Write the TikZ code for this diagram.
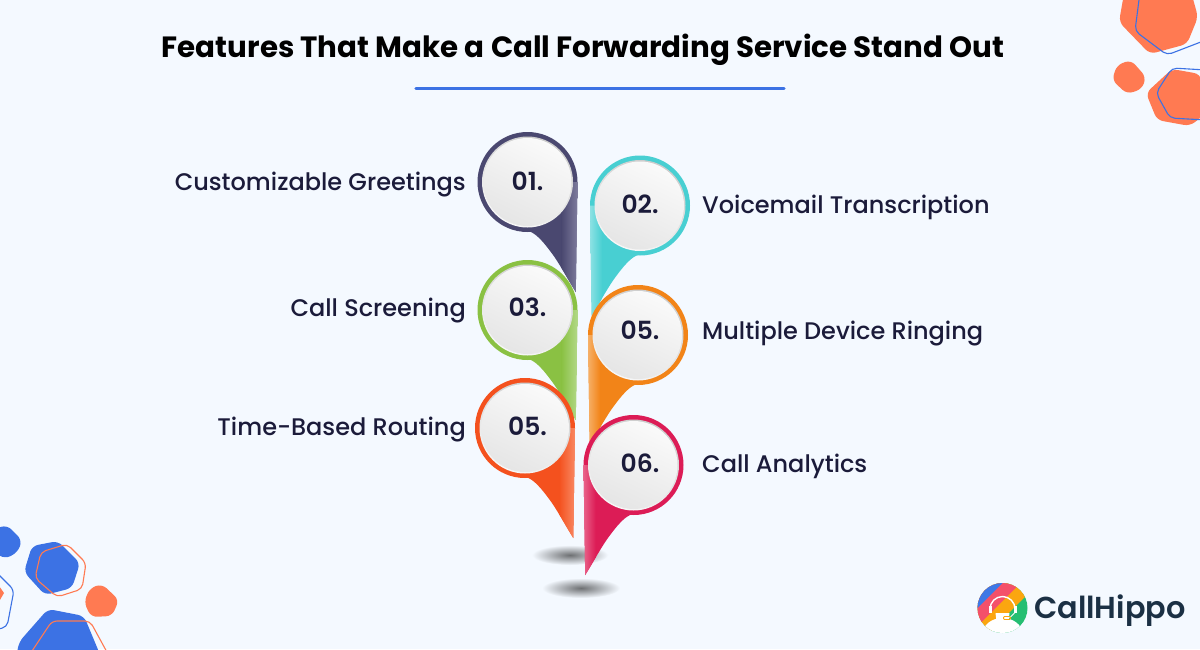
\documentclass[tikz,border=0pt]{standalone}
\usepackage{fontspec}
\setmainfont{Poppins}[UprightFont={* Medium},BoldFont={* Bold}]
\newfontfamily\semi{Poppins SemiBold}
\definecolor{bg}{HTML}{F4F9FF}
\definecolor{ink}{HTML}{1B1B3A}
\definecolor{hexblue}{HTML}{3C72E4}
\definecolor{hexor}{HTML}{FF7A52}
\definecolor{pinA}{HTML}{4A4870}\definecolor{pinAl}{HTML}{7F7D9E}
\definecolor{pinB}{HTML}{48CFD2}\definecolor{pinBl}{HTML}{8FE2E4}
\definecolor{pinC}{HTML}{8AC143}\definecolor{pinCl}{HTML}{B3D98A}
\definecolor{pinD}{HTML}{F28418}\definecolor{pinDl}{HTML}{F6B26B}
\definecolor{pinE}{HTML}{F4511E}\definecolor{pinEl}{HTML}{F98A65}
\definecolor{pinF}{HTML}{DC1C56}\definecolor{pinFl}{HTML}{E9658C}
\definecolor{logoblue}{HTML}{3E78E6}
\definecolor{logored}{HTML}{F4506A}
\definecolor{logoor}{HTML}{FBA60F}
\definecolor{logogreen}{HTML}{25BE72}
\definecolor{logoink}{HTML}{1B3044}
\tikzset{
  blob/.style={rounded corners=6pt},
  hexline/.style={rounded corners=5pt,line width=1.1pt,fill=none},
  featlabel/.style={inner sep=0pt,font=\fontsize{24}{28}\selectfont,text=ink},
  discnode/.style={circle,minimum size=88pt,inner sep=0pt,
    top color=white!98!black,bottom color=black!10,shading angle=-25},
  numlabel/.style={inner sep=0pt,font=\semi\fontsize{25}{28}\selectfont,text=ink},
  rim/.style={top color=black!20,bottom color=white!97!black,shading angle=-25},
  shadowblob/.style={inner color=black!55!bg,outer color=bg}
}
% name, cx, cy, direction(+1 tail on right, -1 tail on left), base, light
\newcommand{\pinmark}[6]{%
  \begin{scope}[shift={(#2,#3)}]
    \fill[#5] (0,0) circle[radius=50];
    \path[fill=#5] (0,49) .. controls ({#4*8},50) and ({#4*17},61) .. ({#4*27},75)
       .. controls ({#4*35},87) and ({#4*42},100) .. ({#4*48.3},110) -- ({#4*50},0) -- cycle;
    \begin{scope}
      \clip (0,49) .. controls ({#4*8},50) and ({#4*17},61) .. ({#4*27},75)
       .. controls ({#4*35},87) and ({#4*42},100) .. ({#4*48.3},110) -- ({#4*50},0) -- (0,0) -- cycle;
      \ifnum#4>0
        \shade[left color=#5,right color=#6] (34,0) rectangle (50.5,112);
      \else
        \shade[left color=#6,right color=#5] (-50.5,0) rectangle (-38,112);
      \fi
    \end{scope}
    \shade[rim] (0,0) circle[radius=45.5];
    \node[discnode] (#1) at (0,0) {};
  \end{scope}}
\begin{document}
\begin{tikzpicture}[x=1pt,y=-1pt]
\useasboundingbox (0,0) rectangle (1200,649);
\clip (0,0) rectangle (1200,649);
\fill[bg] (0,0) rectangle (1200,649);
% corner decorations, top right
\fill[hexor,blob] (1125,-12) -- (1119,22) -- (1150,54) -- (1187,44) -- (1198,17) -- (1190,-12) -- cycle;
\draw[hexblue,hexline] (1140,-8) -- (1135,31) -- (1167,55) -- (1206,40);
\fill[hexor,blob] (1131,60) -- (1146,77) -- (1142,89) -- (1127,94) -- (1112,80) -- (1117,65) -- cycle;
\fill[hexor,blob] (1172,69) -- (1200,74) -- (1210,110) -- (1190,126) -- (1157,120) -- (1146,93) -- cycle;
\draw[hexblue,hexline] (1206,70) -- (1172,68) -- (1156,93) -- (1170,118) -- (1206,120);
% corner decorations, bottom left
\fill[hexblue,blob] (7,525) -- (22,540) -- (18,552) -- (5,559) -- (-9,550) -- (-9,530) -- cycle;
\fill[hexblue,blob] (32,546) -- (58,541) -- (80,563) -- (72,588) -- (45,595) -- (24,572) -- cycle;
\draw[hexor,hexline] (41,552) -- (67,544) -- (86,563) -- (82,589) -- (57,597) -- (35,578) -- cycle;
\fill[hexor,blob] (102,584) -- (119,600) -- (112,616) -- (91,617) -- (84,602) -- (90,588) -- cycle;
\fill[hexblue,blob] (48,609) -- (84,616) -- (104,664) -- (15,664) -- (19,642) -- cycle;
\draw[hexor,hexline] (30,654) -- (52,621) -- (90,621) -- (108,654);
\draw[hexblue,hexline] (-6,570) -- (14,590) -- (7,627) -- (-6,630);
\fill[hexor] (-3,583) -- (4,593) -- (-3,605) -- cycle;
% title
\node[inner sep=0pt,anchor=base,font=\bfseries\fontsize{29.3}{34}\selectfont,text=black] (title) at (583,57) {Features That Make a Call Forwarding Service Stand Out};
\draw[line width=3.4pt,line cap=round,color=hexblue] (416,88.5) coordinate (ruleL) -- (784,88.5) coordinate (ruleR);
% shadows
\shade[shadowblob] (570,555) ellipse[x radius=38,y radius=10];
\shade[shadowblob] (581,588) ellipse[x radius=39,y radius=10];
% pins
\pinmark{n1}{527.5}{182}{1}{pinA}{pinAl}
\node[numlabel] (v1) at (527.5,181) {01.};
\pinmark{n2}{640}{205.5}{-1}{pinB}{pinBl}
\node[numlabel] (v2) at (640,204) {02.};
\pinmark{n3}{527.5}{310}{1}{pinC}{pinCl}
\node[numlabel] (v3) at (527.5,307.5) {03.};
\pinmark{n5}{638}{335}{-1}{pinD}{pinDl}
\node[numlabel] (v5) at (640,330.5) {05.};
\pinmark{n4}{525}{428}{1}{pinE}{pinEl}
\node[numlabel] (v4) at (527.5,426.5) {05.};
\pinmark{n6}{633.5}{465}{-1}{pinF}{pinFl}
\node[numlabel] (v6) at (640,463) {06.};
% labels
\node[featlabel,anchor=base east] (t1) at (466,190) {Customizable Greetings};
\node[featlabel,anchor=base east] (t3) at (466,316) {Call Screening};
\node[featlabel,anchor=base east] (t4) at (466,435) {Time-Based Routing};
\node[featlabel,anchor=base west] (t2) at (702,213) {Voicemail Transcription};
\node[featlabel,anchor=base west] (t5) at (702,339) {Multiple Device Ringing};
\node[featlabel,anchor=base west] (t6) at (702,472) {Call Analytics};
% logo
\begin{scope}[shift={(1002.5,608)}]
  \begin{scope}
    \clip (0,0) circle[radius=25];
    \fill[logogreen] (-30,-30) rectangle (30,30);
    \fill[logoor] (35.7,-24.3) -- (-24.3,35.7) -- (-60,-60) -- cycle;
    \fill[logored] (26.5,-33.5) -- (-33.5,26.5) -- (-60,-60) -- cycle;
    \fill[logoblue] (17.5,-42.5) -- (-42.5,17.5) -- (-60,-60) -- cycle;
    \fill[white] (0,26) ellipse[x radius=20,y radius=16];
    \fill[white] (-7,5) -- (7,5) -- (6,14) -- (-6,14) -- cycle;
    \draw[white,line width=1.4pt] (-12.5,1) arc[start angle=180,end angle=360,radius=12.5];
    \fill[white] (-14,-2) rectangle (-11,5);
    \fill[white] (11,-2) rectangle (14,5);
    \draw[white,line width=1pt] (12,5) -- (7,10);
    \draw[logoor,line width=.8pt,rounded corners=1pt] (1,8.5) rectangle (8,11.5);
  \end{scope}
\end{scope}
\node[inner sep=0pt,anchor=base west,font=\semi\fontsize{30.3}{34}\selectfont,text=logoink] (brand) at (1034,618) {CallHippo};
\end{tikzpicture}
\end{document}
